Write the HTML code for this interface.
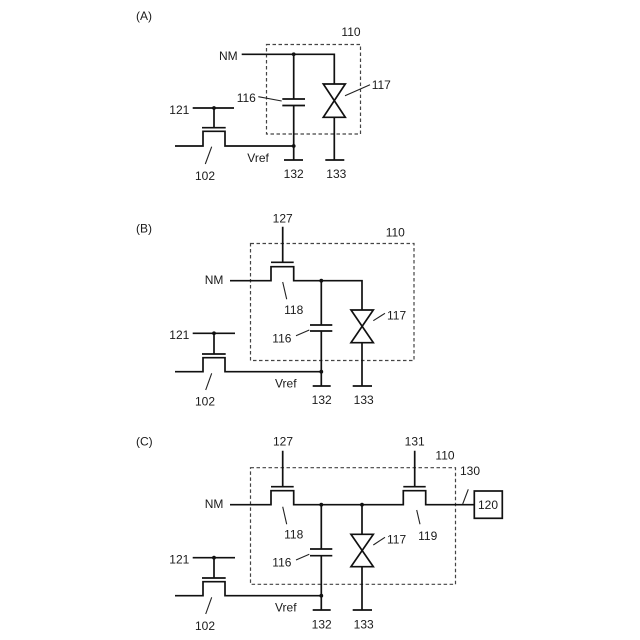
<!DOCTYPE html>
<html>
<head>
<meta charset="utf-8">
<style>
html,body{margin:0;padding:0;background:#fff;width:640px;height:640px;overflow:hidden}
svg{display:block}
text{font-family:"Liberation Sans",sans-serif;font-size:12px;fill:#1a1a1a}
.w{fill:none;stroke:#111;stroke-width:1.7}
.l{fill:none;stroke:#222;stroke-width:1.1}
.d{fill:none;stroke:#444;stroke-width:1.2;stroke-dasharray:3.5 2.5}
.c{text-anchor:middle}
circle{fill:#111}
</style>
</head>
<body>
<svg width="640" height="640" viewBox="0 0 640 640" xmlns="http://www.w3.org/2000/svg">
<rect width="640" height="640" fill="#fff"/>

<!-- Panel A -->
<text x="136" y="20">(A)</text>
<rect class="d" x="266.5" y="44.5" width="94" height="89.5"/>
<path class="w" d="M241.7 54.3H334.3V84M334.3 117.3V160M325.3 160H344.3"/>
<path class="w" d="M323.3 84H345.3L323.3 117.3H345.3Z"/>
<path class="w" d="M293.7 54.3V99M282.3 99H305M282.3 105.5H305M293.7 105.5V160M284 160H303"/>
<path class="w" d="M175 146H203V131.3H225V146H293.7M202 127.7H225.7M214 127.7V108M192.7 108H234"/>
<circle cx="293.7" cy="54.3" r="1.9"/><circle cx="293.7" cy="146" r="1.9"/><circle cx="214" cy="108" r="1.9"/>
<path class="l" d="M345 95.7L370 84.7M258.3 96.7L281.7 101M211.7 146.7L205.3 164"/>
<text class="c" x="351" y="36">110</text>
<text x="219" y="60">NM</text>
<text x="371.7" y="89">117</text>
<text x="236.7" y="102">116</text>
<text x="169.3" y="114">121</text>
<text x="247.3" y="162">Vref</text>
<text class="c" x="293.7" y="178">132</text>
<text class="c" x="336.3" y="178">133</text>
<text class="c" x="205" y="180">102</text>

<!-- Panel B -->
<text x="136" y="232.3">(B)</text>
<rect class="d" x="250.5" y="243.5" width="163.5" height="117"/>
<path class="w" d="M230 280.7H271V266.7H293.7V280.7H362V310M362 342.7V386M352.7 386H372"/>
<path class="w" d="M351 310H373.3L351 342.7H373.3Z"/>
<path class="w" d="M271 262.3H293.7M282.7 262.3V226.7"/>
<path class="w" d="M321.3 280.7V325M310 325H332.3M310 331H332.3M321.3 331V386M312.7 386H330.7"/>
<path class="w" d="M175 371.7H203V357.7H225V371.7H321.3M202 354H225.7M214 354V333.3M192.7 333.3H235"/>
<circle cx="321.3" cy="280.7" r="1.9"/><circle cx="321.3" cy="371.7" r="1.9"/><circle cx="214" cy="333.3" r="1.9"/>
<path class="l" d="M282.7 282L286.7 299.3M373.3 320.7L385 313.3M296 335.7L309.3 330M211.7 373.3L205.7 390"/>
<text class="c" x="282.7" y="222.3">127</text>
<text class="c" x="395.3" y="236.7">110</text>
<text x="204.7" y="284">NM</text>
<text class="c" x="293.7" y="314">118</text>
<text x="387" y="319.3">117</text>
<text x="272.3" y="342.7">116</text>
<text x="169.3" y="339">121</text>
<text x="275" y="387.3">Vref</text>
<text class="c" x="321.7" y="404">132</text>
<text class="c" x="363.7" y="404">133</text>
<text class="c" x="205" y="405.7">102</text>

<!-- Panel C -->
<text x="136" y="445.7">(C)</text>
<rect class="d" x="250.5" y="467.7" width="205" height="116.6"/>
<path class="w" d="M230 504.7H271V490.7H293.7V504.7H403.3V490.7H425.7V504.7H474.3"/>
<path class="w" d="M271 486.7H293.7M282.7 486.7V450.7M403.3 486.7H425.7M414.7 486.7V450.7"/>
<rect class="w" x="474.3" y="491" width="28" height="27.3"/>
<path class="w" d="M362 504.7V534.3M362 566.7V610M352.7 610H372"/>
<path class="w" d="M351 534.3H373.3L351 566.7H373.3Z"/>
<path class="w" d="M321.3 504.7V549M310 549H332.3M310 555.7H332.3M321.3 555.7V610M312.7 610H330.7"/>
<path class="w" d="M175 595.7H203V581.7H225V595.7H321.3M202 578H225.7M214 578V557.7M192.7 557.7H235"/>
<circle cx="321.3" cy="504.7" r="1.9"/><circle cx="362" cy="504.7" r="1.9"/><circle cx="321.3" cy="595.7" r="1.9"/><circle cx="214" cy="557.7" r="1.9"/>
<path class="l" d="M282.7 506.7L286.7 524.3M416.7 510L420 524.3M468.3 489.3L462.7 504M373.3 545L385 537.3M296 560L309.3 554.3M211.7 597.3L205.7 614"/>
<text class="c" x="283" y="445.7">127</text>
<text class="c" x="414.7" y="445.7">131</text>
<text class="c" x="445" y="459.3">110</text>
<text x="460" y="475">130</text>
<text class="c" x="488" y="509">120</text>
<text x="204.7" y="508">NM</text>
<text class="c" x="293.7" y="538.3">118</text>
<text class="c" x="427.7" y="540">119</text>
<text x="387" y="543.3">117</text>
<text x="272.3" y="566.7">116</text>
<text x="169.3" y="563.3">121</text>
<text x="275" y="611.7">Vref</text>
<text class="c" x="321.7" y="628.3">132</text>
<text class="c" x="363.7" y="628.3">133</text>
<text class="c" x="205" y="630">102</text>
</svg>
</body>
</html>
